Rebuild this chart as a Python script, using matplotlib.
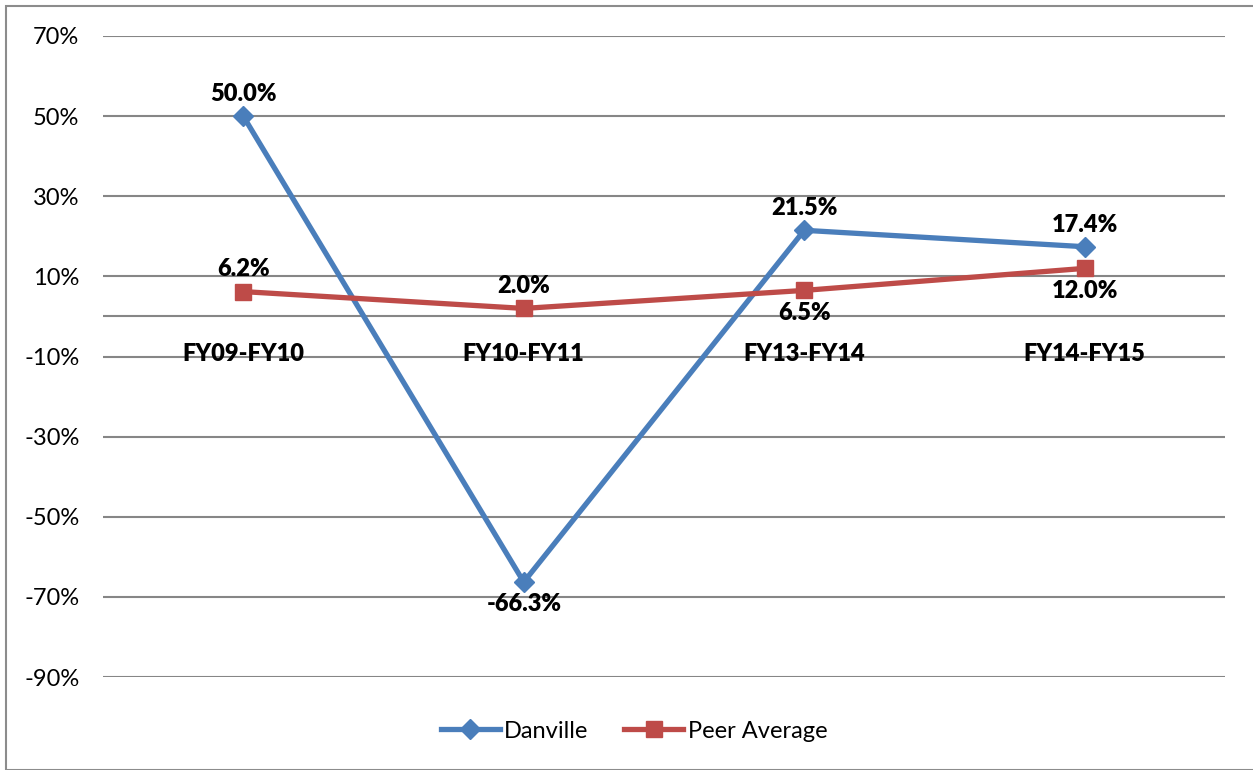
import matplotlib.pyplot as plt
from matplotlib.patches import Rectangle
from matplotlib.ticker import FixedLocator, FuncFormatter

categories = ['FY09-FY10', 'FY10-FY11', 'FY13-FY14', 'FY14-FY15']
danville = [50.0, -66.3, 21.5, 17.4]
peer_avg = [6.2, 2.0, 6.5, 12.0]
# label above (+1) or below (-1) each point
danville_pos = [1, -1, 1, 1]
peer_pos = [1, 1, -1, -1]
yticks = [-90, -70, -50, -30, -10, 10, 30, 50, 70]

BLUE = '#4A7EBB'
RED = '#BE4B48'
GRID = '#868686'

plt.rcParams['font.family'] = ['Lato', 'DejaVu Sans']

fig = plt.figure(figsize=(12.53, 7.7), dpi=100)
fig.patches.append(Rectangle((6 / 1253, 0), 1.0, 1 - 6 / 770, transform=fig.transFigure,
                             fill=False, edgecolor='#8c8c8c', linewidth=1.5))
ax = fig.add_axes([103 / 1253, 1 - 677 / 770, (1225 - 103) / 1253, (677 - 36) / 770])

x = list(range(len(categories)))
ax.plot(x, danville, color=BLUE, lw=3.8, marker='D', ms=10, label='Danville', zorder=3)
ax.plot(x, peer_avg, color=RED, lw=3.8, marker='s', ms=12, label='Peer Average', zorder=3)

for xi, v, p in zip(x, danville, danville_pos):
    ax.annotate(f'{v:.1f}%', (xi, v), xytext=(0, 16 * p), textcoords='offset points',
                ha='center', va='center', fontsize=17, fontweight='heavy')
for xi, v, p in zip(x, peer_avg, peer_pos):
    ax.annotate(f'{v:.1f}%', (xi, v), xytext=(0, 16 * p), textcoords='offset points',
                ha='center', va='center', fontsize=17, fontweight='heavy')
for xi, c in zip(x, categories):
    ax.annotate(c, (xi, 0), xytext=(0, -27), textcoords='offset points',
                ha='center', va='center', fontsize=17, fontweight='heavy')

ax.set_xlim(-0.5, 3.5)
ax.set_ylim(-90, 70)
ax.yaxis.set_major_locator(FixedLocator(yticks))
ax.yaxis.set_major_formatter(FuncFormatter(lambda v, _: f'{v:.0f}%'))
ax.tick_params(axis='y', length=0, labelsize=17, pad=17)
ax.set_xticks([])
ax.grid(axis='y', color=GRID, lw=1.5)
ax.axhline(0, color=GRID, lw=1.5)
for s in ax.spines.values():
    s.set_visible(False)

fig.legend(loc='center', bbox_to_anchor=(634 / 1253, 1 - 731 / 770), ncol=2, frameon=False,
           fontsize=17, handlelength=2.5, columnspacing=1.5, handletextpad=0.2)

fig.savefig('out.png', dpi=100)
